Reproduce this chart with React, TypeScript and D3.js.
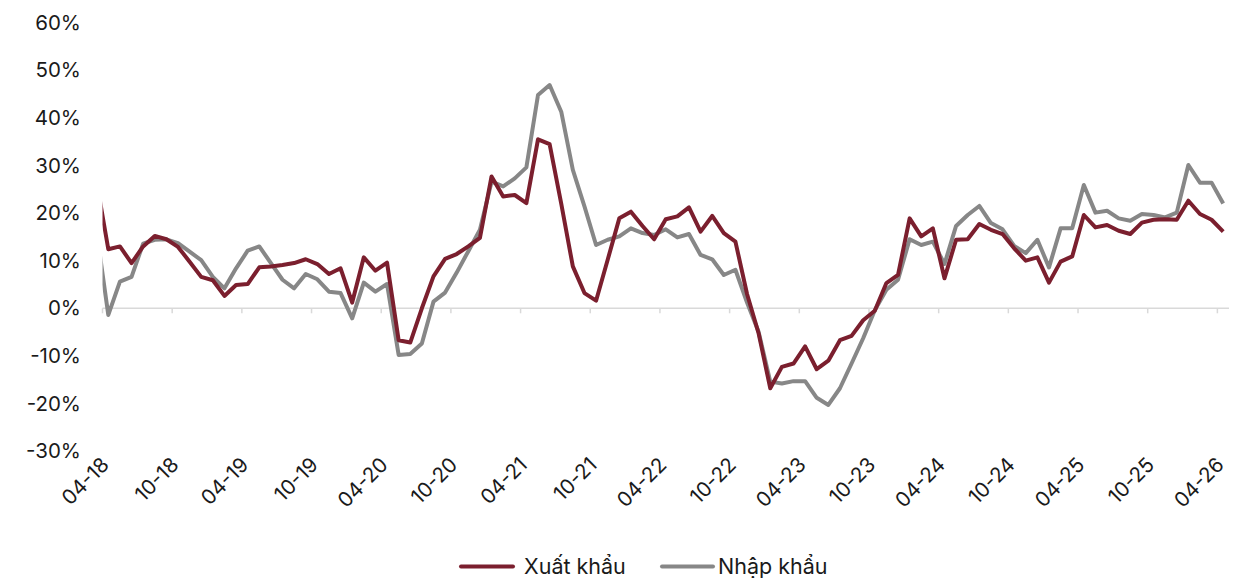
import React from 'react'
import * as d3 from 'd3'

// months shown on the axis run 04-18 .. 04-26; 03-18 sits just left of the plot and gets clipped
const months = d3.timeMonth
    .range(new Date(2018, 2, 1), new Date(2026, 4, 1))
    .map(d3.timeFormat('%m-%y'))

// y/y growth, %
const exportGrowth = [
    26.5,
    12.4, 13.0, 9.5, 13.0, 15.2, 14.5, 12.9, 9.8, 6.6, 5.9,
    2.6, 4.9, 5.1, 8.6, 8.8, 9.1, 9.5, 10.3, 9.3, 7.2,
    8.4, 1.2, 10.7, 7.9, 9.6, -6.7, -7.2, 0.0, 6.7, 10.4,
    11.4, 13.0, 14.8, 27.7, 23.5, 23.8, 22.1, 35.5, 34.5, 22.0,
    8.8, 3.2, 1.6, 10.2, 18.9, 20.3, 17.3, 14.5, 18.7, 19.3,
    21.2, 16.1, 19.4, 15.8, 14.0, 3.0, -5.3, -16.8, -12.3, -11.6,
    -8.0, -12.8, -11.0, -6.7, -5.8, -2.5, -0.5, 5.3, 7.0, 18.9,
    15.1, 16.8, 6.3, 14.4, 14.5, 17.7, 16.5, 15.6, 12.6, 10.0,
    10.7, 5.4, 9.8, 10.9, 19.6, 17.0, 17.5, 16.3, 15.6, 18.0,
    18.6, 18.7, 18.6, 22.6, 19.8, 18.6, 16.1
]

const importGrowth = [
    16.0,
    -1.4, 5.6, 6.6, 13.6, 14.4, 14.5, 13.7, 11.9, 10.1, 6.6,
    4.2, 8.4, 12.1, 13.0, 9.5, 6.0, 4.2, 7.2, 6.1, 3.5,
    3.2, -2.1, 5.4, 3.5, 5.1, -9.8, -9.6, -7.4, 1.4, 3.3,
    7.5, 12.0, 16.5, 26.6, 25.6, 27.3, 29.6, 44.8, 46.9, 41.3,
    29.1, 21.4, 13.3, 14.4, 15.1, 16.8, 15.8, 15.4, 16.6, 14.9,
    15.6, 11.2, 10.3, 7.0, 8.1, 1.2, -5.0, -15.4, -15.8, -15.3,
    -15.3, -18.8, -20.3, -16.8, -11.6, -6.3, -0.4, 3.9, 6.0, 14.5,
    13.3, 14.0, 9.3, 17.3, 19.6, 21.5, 17.9, 16.6, 13.1, 11.6,
    14.4, 8.6, 16.8, 16.8, 25.9, 20.1, 20.5, 18.9, 18.4, 19.8,
    19.6, 19.1, 20.1, 30.1, 26.4, 26.4, 22.0
]

const yTicks = [60, 50, 40, 30, 20, 10, 0, -10, -20, -30]
const seriesNames = ['Xuất khẩu', 'Nhập khẩu']
const colors = ['#7b1f2e', '#878787']

export default function App() {
    const width = 1252
    const height = 578
    const left = 102.5
    const right = 1229
    const font = 'Inter, "Noto Sans", sans-serif'

    const visible = months.slice(1)
    // index 0 = 04-18, the leading 03-18 point lands at -1
    const x = d3.scaleLinear().domain([-0.5, visible.length - 0.5]).range([left, right])
    const y = d3.scaleLinear().domain([-30, 60]).range([451.1, 22.7])

    const line = d3.line<number>()
        .x((d, i) => x(i - 1))
        .y((d) => y(d))

    const labelIdx = d3.range(0, visible.length, 6)
    const y0 = y(0)
    const yLow = y(-30)

    return (
        <svg width={width} height={height} style={{ position: 'absolute', left: 0, top: 0, background: '#fff' }}>
            <defs>
                <clipPath id="plot">
                    <rect x={left} y={0} width={right - left} height={height} />
                </clipPath>
            </defs>

            {yTicks.map((t) => (
                <text key={t} x={81} y={y(t)} dy="0.35em" textAnchor="end"
                    fontFamily={font} fontSize={20.5} fill="#1a1a1a">{t}%</text>
            ))}

            <line x1={left} x2={right} y1={y0} y2={y0} stroke="#d9d9d9" strokeWidth={1.5} />
            {labelIdx.map((i) => (
                <line key={'t' + i} x1={x(i - 0.5)} x2={x(i - 0.5)} y1={y0} y2={y0 + 5}
                    stroke="#d9d9d9" strokeWidth={1.5} />
            ))}

            <g clipPath="url(#plot)">
                <path d={line(importGrowth) || ''} fill="none" stroke={colors[1]} strokeWidth={4}
                    strokeLinejoin="round" />
                <path d={line(exportGrowth) || ''} fill="none" stroke={colors[0]} strokeWidth={4}
                    strokeLinejoin="round" />
            </g>

            {/* category labels sit at the bottom of the value range */}
            {labelIdx.map((i) => (
                <text key={'l' + i} transform={`translate(${x(i) + 2},${yLow + 15}) rotate(-45)`}
                    textAnchor="end" fontFamily={font} fontSize={20.5} fill="#1a1a1a">
                    {visible[i]}
                </text>
            ))}

            <g fontFamily={font} fontSize={21.5} fill="#1a1a1a">
                <line x1={461} x2={513} y1={566.5} y2={566.5} stroke={colors[0]} strokeWidth={4} strokeLinecap="round" />
                <text x={524} y={566.5} dy="0.35em">{seriesNames[0]}</text>
                <line x1={662} x2={713} y1={566.5} y2={566.5} stroke={colors[1]} strokeWidth={4} strokeLinecap="round" />
                <text x={718} y={566.5} dy="0.35em">{seriesNames[1]}</text>
            </g>
        </svg>
    )
}
